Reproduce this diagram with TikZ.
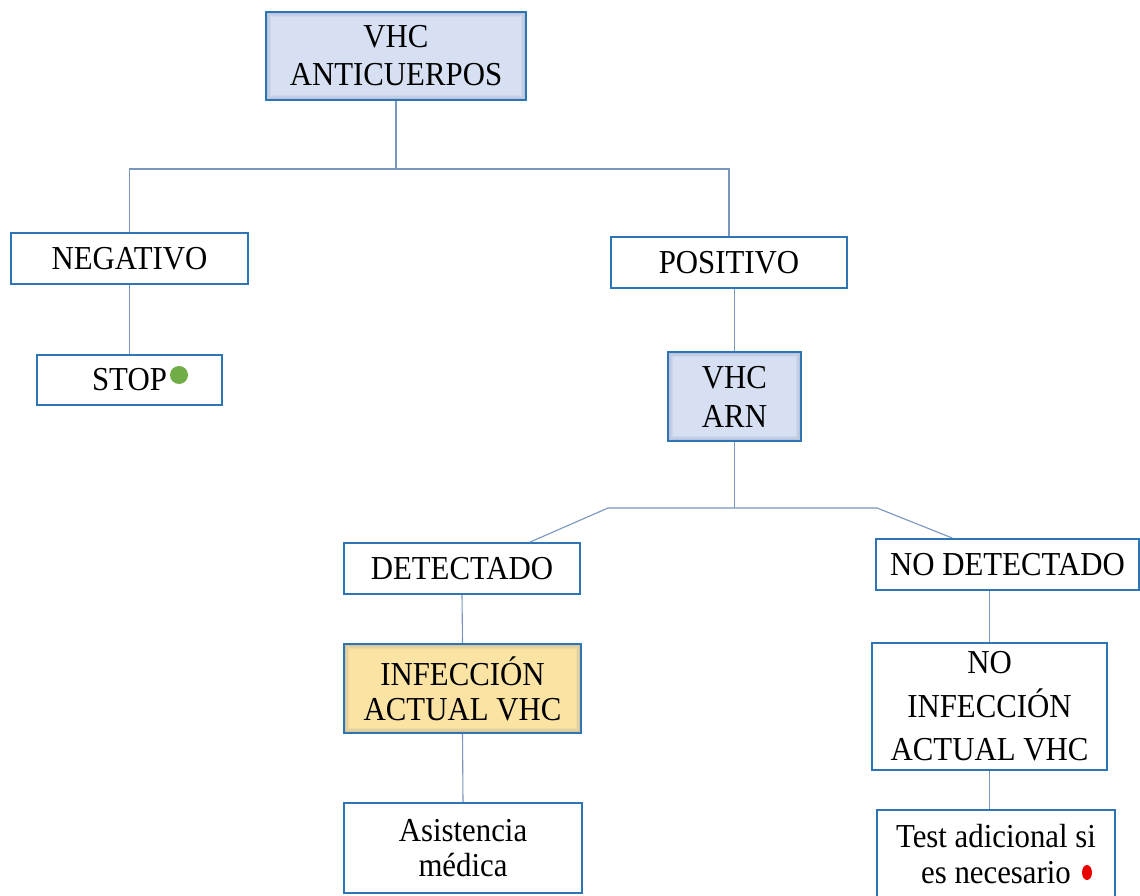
\documentclass[tikz,border=0pt]{standalone}
\usepackage{fontspec}
\setmainfont{Liberation Serif}[FakeStretch=0.92]
\definecolor{boxline}{RGB}{46,117,182}
\definecolor{connline}{RGB}{120,150,190}
\definecolor{bluefill}{RGB}{214,224,242}
\definecolor{orangefill}{RGB}{251,227,164}
\definecolor{dotgreen}{RGB}{112,173,71}
\definecolor{dotred}{RGB}{235,0,0}
\definecolor{edgeshade}{RGB}{60,80,130}

\begin{document}
\begin{tikzpicture}[x=1pt,y=-1pt,
  box/.style={draw=boxline, line width=1.8pt, fill=white, inner sep=0pt,
    align=center, text=black, font=\fontsize{33.5}{38}\selectfont},
  softedge/.style={path picture={
    \foreach \i/\o in {1.5/0.20,3/0.12,4.5/0.06}{
      \draw[line width=1.5pt, edgeshade, opacity=\o]
        ([shift={(\i pt,-\i pt)}]path picture bounding box.north west) rectangle
        ([shift={(-\i pt,\i pt)}]path picture bounding box.south east);}}},
  bluebox/.style={box, fill=bluefill, softedge},
  orangebox/.style={box, fill=orangefill, softedge},
  conn/.style={draw=connline, line width=1.1pt}
]
\useasboundingbox (0,0) rectangle (1140,896);
\clip (0,0) rectangle (1140,896);
\fill[white] (0,0) rectangle (1140,896);

% boxes
\node[bluebox, minimum width=260pt, minimum height=88pt] (anti) at (396,56) {VHC\\ANTICUERPOS};
\node[box, minimum width=237pt, minimum height=51pt] (neg) at (129.5,258.5) {NEGATIVO};
\node[box, minimum width=185pt, minimum height=50pt] (stop) at (129.5,380) {STOP};
\node[box, minimum width=236pt, minimum height=51pt] (pos) at (729,262.5) {POSITIVO};
\node[bluebox, minimum width=133pt, minimum height=89pt, font=\fontsize{33.5}{39}\selectfont] (arn) at (734.5,396.5) {VHC\\ARN};
\node[box, minimum width=236pt, minimum height=51pt] (det) at (462,568.5) {DETECTADO};
\node[box, minimum width=263pt, minimum height=51pt] (nodet) at (1007.5,564.5) {NO DETECTADO};
\node[orangebox, minimum width=237pt, minimum height=89pt, font=\fontsize{33.5}{35}\selectfont] (inf) at (462.5,688.5) {INFECCIÓN\\ACTUAL VHC};
\node[box, minimum width=238pt, minimum height=90pt, font=\fontsize{33.5}{35}\selectfont] (asis) at (463,848) {Asistencia\\médica};
\node[box, minimum width=235pt, minimum height=127pt, font=\fontsize{33.5}{43.5}\selectfont] (noinf) at (989.5,706.5) {NO\\INFECCIÓN\\ACTUAL VHC};
\node[box, minimum width=238pt, minimum height=88pt, font=\fontsize{33.5}{36}\selectfont] (test) at (996,854) {Test adicional si\\es necesario};

% status dots
\fill[dotgreen] (179,375) circle[radius=9pt];
\fill[dotred] (1087,872.5) ellipse[x radius=5pt, y radius=7.5pt];

% connectors
\coordinate (top) at (396,169);
\draw[conn] (anti.south) -- (top);
\draw[conn] (neg.north) |- (top) -| (pos.north);
\draw[conn] (neg.south) -- (stop.north);
\draw[conn] (arn.north |- pos.south) -- (arn.north);
\coordinate (bl) at (608,508);
\coordinate (br) at (877,508);
\draw[conn] (arn.south) -- (arn.south |- bl);
\draw[conn] ([xshift=68pt]det.north) -- (bl) -- (br) -- ([xshift=-55pt]nodet.north);
\draw[conn] (det.south) -- (inf.north);
\draw[conn] (inf.south) -- (asis.north);
\draw[conn] (noinf.north |- nodet.south) -- (noinf.north);
\draw[conn] (noinf.south) -- (noinf.south |- test.north);
\end{tikzpicture}
\end{document}
